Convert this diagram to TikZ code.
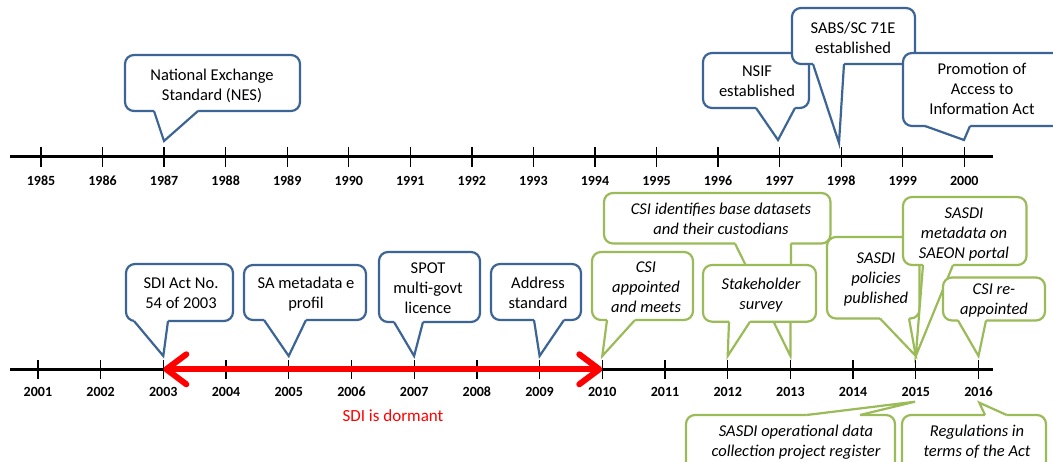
\documentclass[tikz,border=0pt]{standalone}
\usepackage{fontspec}
\setmainfont{Carlito}
\usetikzlibrary{calc,arrows.meta}
\definecolor{cblue}{RGB}{60,100,148}
\definecolor{cgreen}{RGB}{155,187,89}
\definecolor{cred}{RGB}{255,0,0}
% #1 style, #2 corner, #3 opposite corner, #4 tail base left, #5 tail base right, #6 tip, #7 inward offset
\newcommand{\callout}[7]{%
  \draw[#1,fill=white,rounded corners=9pt] #2 rectangle #3;
  \fill[white] ($#4+#7$) -- #4 -- #6 -- #5 -- ($#5+#7$) -- cycle;
  \draw[#1,line join=miter] #4 -- #6 -- #5;
}
\tikzset{
  bluebox/.style={draw=cblue,line width=2.2pt},
  greenbox/.style={draw=cgreen,line width=2.2pt},
  ctext/.style={font=\fontsize{16.5}{20}\selectfont,align=center,inner sep=0pt},
  gtext/.style={ctext,font=\fontsize{16.5}{20}\selectfont\itshape},
  yearlab/.style={font=\fontsize{14}{17}\selectfont\bfseries,anchor=base,inner sep=0pt},
  axisline/.style={line width=3pt,black},
  tickline/.style={line width=1.3pt,black},
  dormant/.style={cred,line width=6pt,{Straight Barb[length=20pt,width=30pt,round]}-{Straight Barb[length=20pt,width=30pt,round]}}
}
\begin{document}
\begin{tikzpicture}[x=1pt,y=-1pt]
\useasboundingbox (0,0) rectangle (1053,462);
\fill[white] (0,0) rectangle (1053,462);
\clip (0,0) rectangle (1053,462);
% timelines
\coordinate (topL) at (10,157);
\coordinate (topR) at (993,157);
\coordinate (botL) at (10,369.3);
\coordinate (botR) at (993,369.3);
\draw[axisline] (topL) -- (topR);
\draw[axisline] (botL) -- (botR);
\foreach \k in {0,...,15}{
  \pgfmathsetmacro{\xa}{41+61.55*\k}
  \pgfmathtruncatemacro{\ya}{1985+\k}
  \coordinate (t\ya) at (\xa,157);
  \draw[tickline] (\xa,147) -- (\xa,167);
  \node[yearlab] (l\ya) at (\xa,186) {\ya};
  \pgfmathsetmacro{\xb}{37.9+62.71*\k}
  \pgfmathtruncatemacro{\yb}{2001+\k}
  \coordinate (t\yb) at (\xb,369.3);
  \draw[tickline] (\xb,360) -- (\xb,379);
  \node[yearlab] (l\yb) at (\xb,396.5) {\yb};
}
% dormant arrow
\draw[dormant] (t2003) -- (t2010);
\node[font=\fontsize{17}{20}\selectfont,text=cred,anchor=base,inner sep=0pt] (dormant) at (393,421.7) {SDI is dormant};
% top blue callouts
\callout{bluebox}{(125,55)}{(300,111)}{(154,111)}{(198,111)}{(164,141)}{(0,-3)}
\node[ctext] (nes) at (212,86.7) {\strut National Exchange\\Standard (NES)\strut};
\callout{bluebox}{(703,53)}{(809,108)}{(756,108)}{(795,108)}{(778,140)}{(0,-3)}
\node[ctext] (nsif) at (757,82.7) {\strut NSIF\\established\strut};
\callout{bluebox}{(792,8)}{(915,64)}{(813,64)}{(844,64)}{(839,143)}{(0,-3)}
\node[ctext] (sabs) at (853,39.5) {\strut SABS/SC 71E\\established\strut};
\callout{bluebox}{(903,53)}{(1075,126)}{(925,126)}{(970,126)}{(964,140)}{(0,-3)}
\node[ctext] (paia) at (982,91) {\strut Promotion of\\Access to\\Information Act\strut};
% bottom blue callouts
\callout{bluebox}{(126,264)}{(233,321)}{(134,321)}{(168,321)}{(163.3,356)}{(0,-3)}
\node[ctext] (sdiact) at (181,295) {\strut SDI Act No.\\54 of 2003\strut};
\callout{bluebox}{(244,265)}{(366,320)}{(264,320)}{(306,320)}{(288.7,356)}{(0,-3)}
\node[ctext] (samd) at (306,295) {\strut SA metadata e\\profil\strut};
\callout{bluebox}{(379,252)}{(480,322)}{(394,322)}{(423,322)}{(414.1,356)}{(0,-3)}
\node[ctext] (spot) at (428,289.3) {\strut SPOT\\multi-govt\\licence\strut};
\callout{bluebox}{(491,264)}{(581,320)}{(534,320)}{(564,320)}{(539.6,356)}{(0,-3)}
\node[ctext] (addr) at (538,295) {\strut Address\\standard\strut};
% green callouts above bottom line
\callout{greenbox}{(592,252)}{(693,320)}{(607,320)}{(635,320)}{(602.3,356)}{(0,-3)}
\node[gtext] (csiapp) at (646,288.3) {\strut CSI\\appointed\\and meets\strut};
\callout{greenbox}{(604,193)}{(830.5,243.5)}{(735,243.5)}{(791,243.5)}{(790.4,356)}{(0,-3)}
\node[gtext] (csiid) at (721,221) {\strut CSI identifies base datasets\\and their custodians\strut};
\callout{greenbox}{(703,265)}{(816,321.7)}{(729,321.7)}{(750,321.7)}{(727.7,356)}{(0,-3)}
\node[gtext] (stake) at (761,296) {\strut Stakeholder\\survey\strut};
\callout{greenbox}{(827,237)}{(919.5,318.5)}{(880,318.5)}{(909,318.5)}{(915.8,356)}{(0,-3)}
\node[gtext] (pol) at (876,279.3) {\strut SASDI\\policies\\published\strut};
\callout{greenbox}{(903,197)}{(1026.5,265)}{(923,265)}{(953,265)}{(915.8,356)}{(0,-3)}
\node[gtext] (saeon) at (964,234.3) {\strut SASDI\\metadata on\\SAEON portal\strut};
\callout{greenbox}{(943,277.5)}{(1045,320.5)}{(958,320.5)}{(986,320.5)}{(978.5,356)}{(0,-3)}
\node[gtext] (csire) at (994,301) {\strut CSI re-\\appointed\strut};
% green callouts below bottom line
\callout{greenbox}{(686,415)}{(895,490)}{(806.7,415)}{(860,415)}{(915,401.7)}{(0,3)}
\node[gtext] (oper) at (796,442.7) {\strut SASDI operational data\\collection project register\strut};
\callout{greenbox}{(902,415)}{(1046,490)}{(985,415)}{(1006.7,415)}{(979.3,402.7)}{(0,3)}
\node[gtext] (regs) at (977,442.7) {\strut Regulations in\\terms of the Act\strut};
\end{tikzpicture}
\end{document}
